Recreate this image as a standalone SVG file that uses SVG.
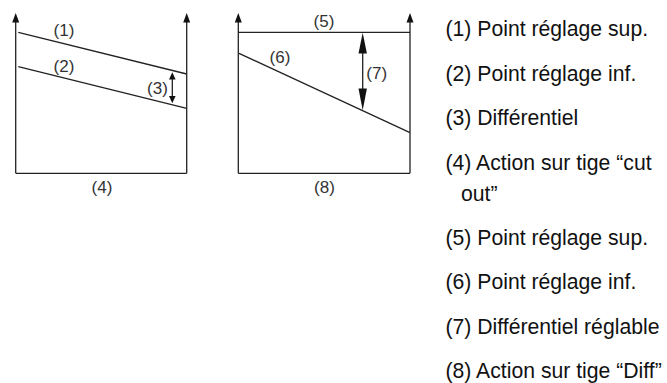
<svg xmlns="http://www.w3.org/2000/svg" width="667" height="383" viewBox="0 0 667 383">
<defs>
<style>
.ln{stroke:#222;stroke-width:1.3;fill:none}
.hd{fill:#111;stroke:none}
.lb{font-family:"Liberation Sans",Arial,sans-serif;font-size:17px;fill:#333;text-anchor:middle}
.lg{font-family:"Liberation Sans",Arial,sans-serif;font-size:21.2px;fill:#111}
</style>
</defs>
<rect width="667" height="383" fill="#fff"/>
<g id="chart-left">
<g id="connectors-left">
<path class="ln" d="M15.7,173.3 V20 M186.7,173.3 V20 M15.7,173.3 H186.7"/>
<path class="hd" d="M15.7,13 L12.2,22.5 L19.2,22.5 Z"/>
<path class="hd" d="M186.7,13 L183.2,22.5 L190.2,22.5 Z"/>
<path class="ln" d="M18.3,32.3 L186.7,74"/>
<path class="ln" d="M18.3,66.7 L186.7,108.3"/>
<path class="ln" d="M172.3,78 V98"/>
<path class="hd" d="M172.3,72.3 L169,79.5 L175.6,79.5 Z"/>
<path class="hd" d="M172.3,103.3 L169,96 L175.6,96 Z"/>
</g>
<g id="n1"><text class="lb" x="64" y="36">(1)</text></g>
<g id="n2"><text class="lb" x="64" y="71.5">(2)</text></g>
<g id="n3"><text class="lb" x="157.5" y="94">(3)</text></g>
<g id="n4"><text class="lb" x="102" y="192.5">(4)</text></g>
</g>
<g id="chart-right">
<g id="connectors-right">
<path class="ln" d="M238.3,173.3 V20 M410,173.3 V20 M238.3,173.3 H410 M238.3,32.3 H410"/>
<path class="hd" d="M238.3,13 L234.8,22.5 L241.8,22.5 Z"/>
<path class="hd" d="M410,13 L406.5,22.5 L413.5,22.5 Z"/>
<path class="ln" d="M239,53.3 L410,132.7"/>
<path class="ln" d="M362.7,50 V92"/>
<path class="hd" d="M362.7,32.7 L358.5,53.5 L366.9,53.5 Z"/>
<path class="hd" d="M362.7,110.3 L358.5,88.5 L366.9,88.5 Z"/>
</g>
<g id="n5"><text class="lb" x="324" y="26.5">(5)</text></g>
<g id="n6"><text class="lb" x="280" y="63">(6)</text></g>
<g id="n7"><text class="lb" x="376.7" y="79">(7)</text></g>
<g id="n8"><text class="lb" x="324.5" y="193">(8)</text></g>
</g>
<g id="legend">
<text class="lg" x="445.5" y="36">(1) Point réglage sup.</text>
<text class="lg" x="445.5" y="80.5">(2) Point réglage inf.</text>
<text class="lg" x="445.5" y="125">(3) Différentiel</text>
<text class="lg" x="445.5" y="169.5">(4) Action sur tige “cut</text>
<text class="lg" x="461" y="201">out”</text>
<text class="lg" x="445.5" y="245">(5) Point réglage sup.</text>
<text class="lg" x="445.5" y="289">(6) Point réglage inf.</text>
<text class="lg" x="445.5" y="333.5">(7) Différentiel réglable</text>
<text class="lg" x="445.5" y="378">(8) Action sur tige “Diff”</text>
</g>
</svg>
